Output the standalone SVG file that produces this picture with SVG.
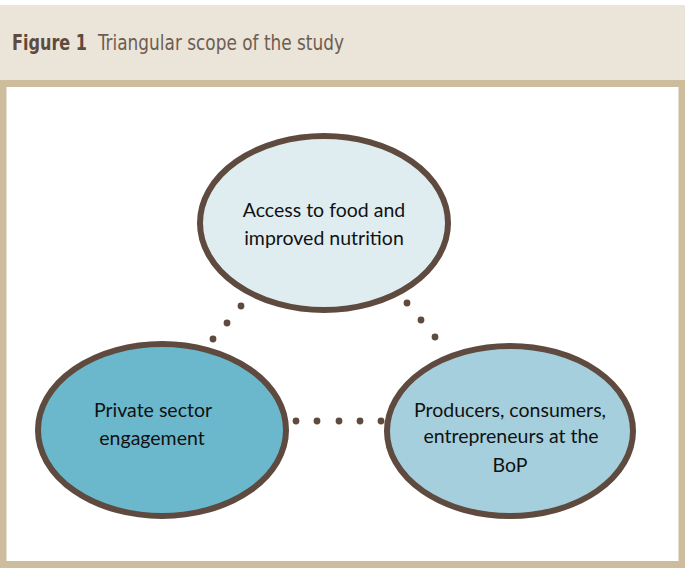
<svg xmlns="http://www.w3.org/2000/svg" width="685" height="568" viewBox="0 0 685 568">
<style>
.node ellipse{stroke:#5e4a3e;stroke-width:6}
.lbl{font-family:Lato,"Open Sans","Liberation Sans",sans-serif;font-size:19.5px;fill:#111;text-anchor:middle}
.dot{fill:#5e4a3e}
.ttl{font-family:"Liberation Sans Narrow","DejaVu Sans Condensed","Liberation Sans",sans-serif;font-size:21px}
</style>
<rect x="0" y="0" width="685" height="568" fill="#ffffff"/>
<rect x="0" y="5" width="685" height="75" fill="#ebe4d9"/>
<rect x="3" y="83.5" width="679" height="481" fill="#ffffff" stroke="#cdbd9d" stroke-width="7"/>
<g id="title">
<text class="ttl" x="12" y="50" fill="#5e4a3e" font-weight="bold" textLength="75" lengthAdjust="spacingAndGlyphs">Figure 1</text>
<text class="ttl" x="98" y="50" fill="#6e5d52" textLength="246" lengthAdjust="spacingAndGlyphs">Triangular scope of the study</text>
</g>
<g id="connectors">
<circle class="dot" cx="241" cy="306" r="3.4"/>
<circle class="dot" cx="227" cy="323" r="3.4"/>
<circle class="dot" cx="213" cy="339" r="3.4"/>
<circle class="dot" cx="407" cy="303" r="3.4"/>
<circle class="dot" cx="421" cy="320" r="3.4"/>
<circle class="dot" cx="435" cy="337" r="3.4"/>
<circle class="dot" cx="296" cy="421" r="3.4"/>
<circle class="dot" cx="317" cy="421" r="3.4"/>
<circle class="dot" cx="339" cy="421" r="3.4"/>
<circle class="dot" cx="360" cy="421" r="3.4"/>
<circle class="dot" cx="381" cy="421" r="3.4"/>
</g>
<g id="node-access" class="node">
<ellipse cx="324" cy="223" rx="124" ry="87" fill="#dfedf1"/>
<text class="lbl" x="324" y="217">Access to food and</text>
<text class="lbl" x="324" y="245">improved nutrition</text>
</g>
<g id="node-private" class="node">
<ellipse cx="162" cy="430" rx="124" ry="86" fill="#6bb8cc"/>
<text class="lbl" x="153" y="417">Private sector</text>
<text class="lbl" x="152" y="445">engagement</text>
</g>
<g id="node-producers" class="node">
<ellipse cx="510" cy="431" rx="123" ry="85" fill="#a5cfdc"/>
<text class="lbl" x="510" y="417">Producers, consumers,</text>
<text class="lbl" x="511" y="443">entrepreneurs at the</text>
<text class="lbl" x="510" y="472">BoP</text>
</g>
</svg>
